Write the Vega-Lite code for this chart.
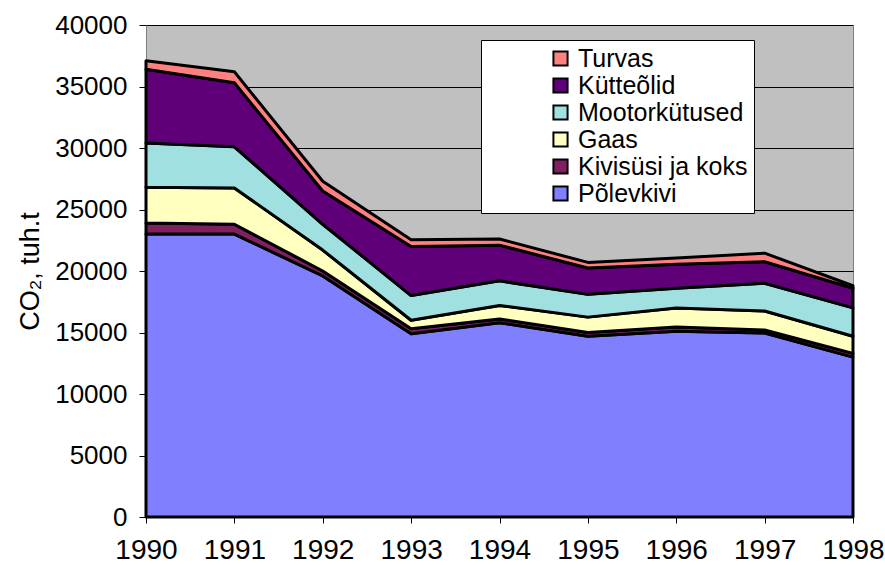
{
  "$schema": "https://vega.github.io/schema/vega-lite/v6.json",
  "width": 707,
  "height": 492,
  "autosize": {"type": "none"},
  "padding": {"left": 146, "top": 25, "right": 32, "bottom": 48},
  "background": "white",
  "config": {
    "view": {"fill": "#C0C0C0", "stroke": "#808080", "strokeWidth": 1},
    "font": "Liberation Sans",
    "axis": {"labelFont": "Liberation Sans", "titleFont": "Liberation Sans", "labelColor": "black", "titleColor": "black"}
  },
  "data": {
    "values": [
      {"aasta": 1990, "kytus": "Põlevkivi", "jrk": 1, "co2": 23000},
      {"aasta": 1990, "kytus": "Kivisüsi ja koks", "jrk": 2, "co2": 900},
      {"aasta": 1990, "kytus": "Gaas", "jrk": 3, "co2": 2900},
      {"aasta": 1990, "kytus": "Mootorkütused", "jrk": 4, "co2": 3600},
      {"aasta": 1990, "kytus": "Kütteõlid", "jrk": 5, "co2": 6000},
      {"aasta": 1990, "kytus": "Turvas", "jrk": 6, "co2": 700},
      {"aasta": 1991, "kytus": "Põlevkivi", "jrk": 1, "co2": 23000},
      {"aasta": 1991, "kytus": "Kivisüsi ja koks", "jrk": 2, "co2": 800},
      {"aasta": 1991, "kytus": "Gaas", "jrk": 3, "co2": 2950},
      {"aasta": 1991, "kytus": "Mootorkütused", "jrk": 4, "co2": 3350},
      {"aasta": 1991, "kytus": "Kütteõlid", "jrk": 5, "co2": 5200},
      {"aasta": 1991, "kytus": "Turvas", "jrk": 6, "co2": 900},
      {"aasta": 1992, "kytus": "Põlevkivi", "jrk": 1, "co2": 19600},
      {"aasta": 1992, "kytus": "Kivisüsi ja koks", "jrk": 2, "co2": 400},
      {"aasta": 1992, "kytus": "Gaas", "jrk": 3, "co2": 1700},
      {"aasta": 1992, "kytus": "Mootorkütused", "jrk": 4, "co2": 2100},
      {"aasta": 1992, "kytus": "Kütteõlid", "jrk": 5, "co2": 2700},
      {"aasta": 1992, "kytus": "Turvas", "jrk": 6, "co2": 800},
      {"aasta": 1993, "kytus": "Põlevkivi", "jrk": 1, "co2": 14900},
      {"aasta": 1993, "kytus": "Kivisüsi ja koks", "jrk": 2, "co2": 400},
      {"aasta": 1993, "kytus": "Gaas", "jrk": 3, "co2": 700},
      {"aasta": 1993, "kytus": "Mootorkütused", "jrk": 4, "co2": 2000},
      {"aasta": 1993, "kytus": "Kütteõlid", "jrk": 5, "co2": 4000},
      {"aasta": 1993, "kytus": "Turvas", "jrk": 6, "co2": 550},
      {"aasta": 1994, "kytus": "Põlevkivi", "jrk": 1, "co2": 15800},
      {"aasta": 1994, "kytus": "Kivisüsi ja koks", "jrk": 2, "co2": 300},
      {"aasta": 1994, "kytus": "Gaas", "jrk": 3, "co2": 1100},
      {"aasta": 1994, "kytus": "Mootorkütused", "jrk": 4, "co2": 2000},
      {"aasta": 1994, "kytus": "Kütteõlid", "jrk": 5, "co2": 2900},
      {"aasta": 1994, "kytus": "Turvas", "jrk": 6, "co2": 500},
      {"aasta": 1995, "kytus": "Põlevkivi", "jrk": 1, "co2": 14700},
      {"aasta": 1995, "kytus": "Kivisüsi ja koks", "jrk": 2, "co2": 300},
      {"aasta": 1995, "kytus": "Gaas", "jrk": 3, "co2": 1250},
      {"aasta": 1995, "kytus": "Mootorkütused", "jrk": 4, "co2": 1850},
      {"aasta": 1995, "kytus": "Kütteõlid", "jrk": 5, "co2": 2150},
      {"aasta": 1995, "kytus": "Turvas", "jrk": 6, "co2": 450},
      {"aasta": 1996, "kytus": "Põlevkivi", "jrk": 1, "co2": 15100},
      {"aasta": 1996, "kytus": "Kivisüsi ja koks", "jrk": 2, "co2": 350},
      {"aasta": 1996, "kytus": "Gaas", "jrk": 3, "co2": 1550},
      {"aasta": 1996, "kytus": "Mootorkütused", "jrk": 4, "co2": 1600},
      {"aasta": 1996, "kytus": "Kütteõlid", "jrk": 5, "co2": 1950},
      {"aasta": 1996, "kytus": "Turvas", "jrk": 6, "co2": 500},
      {"aasta": 1997, "kytus": "Põlevkivi", "jrk": 1, "co2": 14950},
      {"aasta": 1997, "kytus": "Kivisüsi ja koks", "jrk": 2, "co2": 250},
      {"aasta": 1997, "kytus": "Gaas", "jrk": 3, "co2": 1550},
      {"aasta": 1997, "kytus": "Mootorkütused", "jrk": 4, "co2": 2250},
      {"aasta": 1997, "kytus": "Kütteõlid", "jrk": 5, "co2": 1750},
      {"aasta": 1997, "kytus": "Turvas", "jrk": 6, "co2": 700},
      {"aasta": 1998, "kytus": "Põlevkivi", "jrk": 1, "co2": 13000},
      {"aasta": 1998, "kytus": "Kivisüsi ja koks", "jrk": 2, "co2": 300},
      {"aasta": 1998, "kytus": "Gaas", "jrk": 3, "co2": 1400},
      {"aasta": 1998, "kytus": "Mootorkütused", "jrk": 4, "co2": 2300},
      {"aasta": 1998, "kytus": "Kütteõlid", "jrk": 5, "co2": 1600},
      {"aasta": 1998, "kytus": "Turvas", "jrk": 6, "co2": 200}
    ]
  },
  "mark": {"type": "area", "stroke": "black", "strokeWidth": 3, "strokeJoin": "round", "opacity": 1, "fillOpacity": 1},
  "encoding": {
    "x": {
      "field": "aasta",
      "type": "quantitative",
      "scale": {"domain": [1990, 1998], "nice": false, "zero": false},
      "axis": {
        "title": null,
        "values": [1990, 1991, 1992, 1993, 1994, 1995, 1996, 1997, 1998],
        "format": "d",
        "grid": false,
        "labelFontSize": 28,
        "labelPadding": 13,
        "tickSize": 6,
        "tickColor": "black",
        "domainColor": "black",
        "labelFlush": false
      }
    },
    "y": {
      "field": "co2",
      "type": "quantitative",
      "stack": "zero",
      "scale": {"domain": [0, 40000], "nice": false},
      "axis": {
        "title": "CO₂, tuh.t",
        "values": [0, 5000, 10000, 15000, 20000, 25000, 30000, 35000, 40000],
        "format": "d",
        "grid": true,
        "gridColor": "black",
        "gridWidth": 1,
        "gridOpacity": 1,
        "labelFontSize": 26,
        "labelPadding": 12,
        "tickSize": 7,
        "tickColor": "black",
        "domainColor": "#808080",
        "titleFontSize": 27,
        "titleFontWeight": "normal",
        "titlePadding": 10
      }
    },
    "color": {
      "field": "kytus",
      "type": "nominal",
      "sort": ["Turvas", "Kütteõlid", "Mootorkütused", "Gaas", "Kivisüsi ja koks", "Põlevkivi"],
      "scale": {
        "domain": ["Turvas", "Kütteõlid", "Mootorkütused", "Gaas", "Kivisüsi ja koks", "Põlevkivi"],
        "range": ["#FF8080", "#600078", "#A0E0E0", "#FFFFC0", "#802060", "#8080FF"]
      },
      "legend": {
        "title": null,
        "orient": "none",
        "legendX": 335,
        "legendY": 15,
        "fillColor": "white",
        "strokeColor": "black",
        "padding": 6,
        "symbolOffset": 61,
        "symbolType": "square",
        "symbolSize": 200,
        "symbolStrokeColor": "black",
        "symbolStrokeWidth": 2,
        "symbolOpacity": 1,
        "labelFont": "Liberation Sans",
        "labelFontSize": 25,
        "labelColor": "black",
        "labelOffset": 5,
        "rowPadding": 1,
        "labelLimit": 400
      }
    },
    "order": {"field": "jrk", "type": "quantitative", "sort": "ascending"}
  }
}
